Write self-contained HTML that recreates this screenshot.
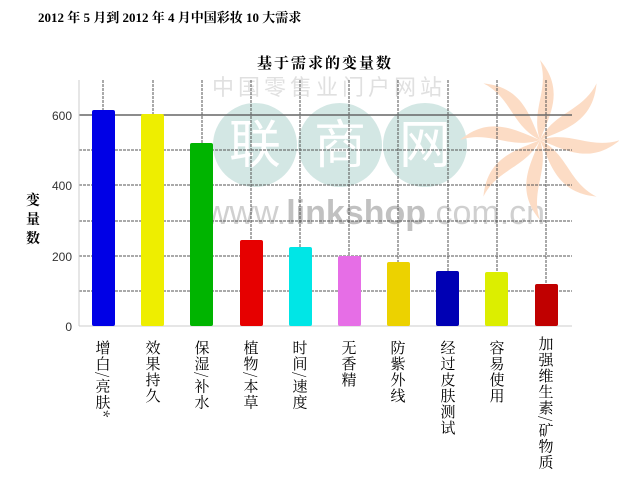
<!DOCTYPE html><html><head><meta charset="utf-8"><style>body{margin:0;background:#fff}svg{display:block}</style></head><body>
<svg width="619" height="498" xmlns="http://www.w3.org/2000/svg" font-family="'Liberation Serif','Noto Serif CJK SC',serif">
<rect width="619" height="498" fill="#fff"/>
<text x="38" y="22" font-size="13" font-weight="bold" fill="#000">2012 年 5 月到 2012 年 4 月中国彩妆 10 大需求</text>
<text x="325" y="68" font-size="15" font-weight="bold" text-anchor="middle" fill="#000" letter-spacing="2">基于需求的变量数</text>
<!-- watermark -->
<g opacity="0.9">
<circle cx="255" cy="145" r="42" fill="#cfe5e2"/><circle cx="340" cy="145" r="42" fill="#cfe5e2"/><circle cx="425" cy="145" r="42" fill="#cfe5e2"/>
<text x="255" y="163" font-size="52" text-anchor="middle" fill="#fff" font-family="'Noto Sans CJK SC',sans-serif">联</text>
<text x="340" y="163" font-size="52" text-anchor="middle" fill="#fff" font-family="'Noto Sans CJK SC',sans-serif">商</text>
<text x="425" y="163" font-size="52" text-anchor="middle" fill="#fff" font-family="'Noto Sans CJK SC',sans-serif">网</text>
<text x="212" y="95" font-size="22" fill="#ddd" font-family="'Noto Sans CJK SC',sans-serif" letter-spacing="4">中国零售业门户网站</text>
<text x="205" y="224" font-size="34" fill="#ccc" font-family="'Liberation Sans',sans-serif">www.<tspan font-weight="bold" fill="#bbb">linkshop</tspan>.com.cn</text>
<g transform="translate(540,140)" fill="#fcd9bf">
<path d="M0,0 C-10,-30 10,-50 0,-80 C25,-50 10,-25 0,0Z"/>
<path d="M0,0 C-10,-30 10,-50 0,-80 C25,-50 10,-25 0,0Z" transform="rotate(45)"/>
<path d="M0,0 C-10,-30 10,-50 0,-80 C25,-50 10,-25 0,0Z" transform="rotate(90)"/>
<path d="M0,0 C-10,-30 10,-50 0,-80 C25,-50 10,-25 0,0Z" transform="rotate(135)"/>
<path d="M0,0 C-10,-30 10,-50 0,-80 C25,-50 10,-25 0,0Z" transform="rotate(180)"/>
<path d="M0,0 C-10,-30 10,-50 0,-80 C25,-50 10,-25 0,0Z" transform="rotate(225)"/>
<path d="M0,0 C-10,-30 10,-50 0,-80 C25,-50 10,-25 0,0Z" transform="rotate(270)"/>
<path d="M0,0 C-10,-30 10,-50 0,-80 C25,-50 10,-25 0,0Z" transform="rotate(315)"/>
</g></g>
<!-- grid -->
<g stroke="#555" stroke-width="1" stroke-dasharray="3,1">
<line x1="79" y1="291" x2="572" y2="291"/><line x1="79" y1="256" x2="572" y2="256"/><line x1="79" y1="221" x2="572" y2="221"/><line x1="79" y1="185" x2="572" y2="185"/><line x1="79" y1="150" x2="572" y2="150"/>
<line x1="103" y1="80" x2="103" y2="326"/><line x1="153" y1="80" x2="153" y2="326"/><line x1="202" y1="80" x2="202" y2="326"/><line x1="251" y1="80" x2="251" y2="326"/><line x1="300" y1="80" x2="300" y2="326"/><line x1="349" y1="80" x2="349" y2="326"/><line x1="398" y1="80" x2="398" y2="326"/><line x1="448" y1="80" x2="448" y2="326"/><line x1="497" y1="80" x2="497" y2="326"/><line x1="546" y1="80" x2="546" y2="326"/>
</g>
<line x1="79" y1="115" x2="572" y2="115" stroke="#666" stroke-width="1.5"/>
<line x1="79" y1="80" x2="79" y2="326" stroke="#ccc"/>
<line x1="79" y1="326" x2="572" y2="326" stroke="#ccc"/>
<g font-family="'Liberation Sans',sans-serif" font-size="12" fill="#333" text-anchor="end">
<text x="72" y="120">600</text><text x="72" y="190">400</text><text x="72" y="261">200</text><text x="72" y="331">0</text></g>
<g font-size="14" font-weight="bold" fill="#000" font-family="'Noto Serif CJK SC',serif"><text x="26" y="205">变</text><text x="26" y="224">量</text><text x="26" y="243">数</text></g>
<!-- bars -->
<g>
<rect x="92" y="110" width="23" height="216" rx="2" fill="#0000e6"/>
<rect x="141" y="114" width="23" height="212" rx="2" fill="#eeee00"/>
<rect x="190" y="143" width="23" height="183" rx="2" fill="#00b400"/>
<rect x="240" y="240" width="23" height="86" rx="2" fill="#e60000"/>
<rect x="289" y="247" width="23" height="79" rx="2" fill="#00e6e6"/>
<rect x="338" y="256" width="23" height="70" rx="2" fill="#e66ee6"/>
<rect x="387" y="262" width="23" height="64" rx="2" fill="#ecd200"/>
<rect x="436" y="271" width="23" height="55" rx="2" fill="#0000b4"/>
<rect x="485" y="272" width="23" height="54" rx="2" fill="#dcee00"/>
<rect x="535" y="284" width="23" height="42" rx="2" fill="#c00000"/>
</g>
<g font-size="15" fill="#000" font-family="'Noto Serif CJK SC',serif" style="writing-mode:vertical-rl" letter-spacing="1">
<text x="103" y="340">增白/亮肤*</text>
<text x="153" y="340">效果持久</text>
<text x="202" y="340">保湿/补水</text>
<text x="251" y="340">植物/本草</text>
<text x="300" y="340">时间/速度</text>
<text x="349" y="340">无香精</text>
<text x="398" y="340">防紫外线</text>
<text x="448" y="340">经过皮肤测试</text>
<text x="497" y="340">容易使用</text>
<text x="546" y="336">加强维生素/矿物质</text>
</g>
</svg></body></html>
